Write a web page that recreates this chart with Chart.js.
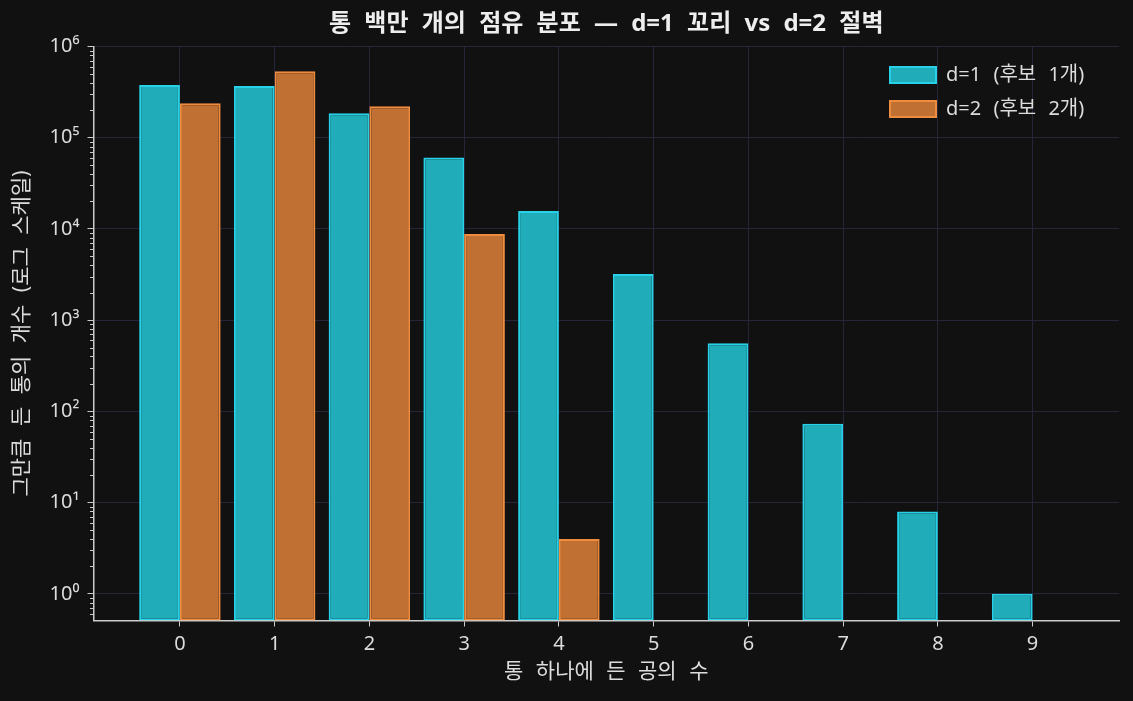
<!DOCTYPE html>
<html lang="ko">
<head>
<meta charset="utf-8">
<title>통 백만 개의 점유 분포</title>
<script src="https://cdn.jsdelivr.net/npm/chart.js@4.4.1/dist/chart.umd.min.js"></script>
<style>
  html, body { margin: 0; padding: 0; background: #111111; }
  #chart { display: block; }
</style>
</head>
<body>
<canvas id="chart" width="1133" height="701"></canvas>
<script>
// 통 하나에 든 공의 수
var ballCounts = [0, 1, 2, 3, 4, 5, 6, 7, 8, 9];
var tickLabelsX = ['0', '1', '2', '3', '4', '5', '6', '7', '8', '9'];
// 그만큼 든 통의 개수 (d=1: 후보 1개)
var binsD1 = [378000, 369000, 185000, 60800, 15700, 3200, 560, 73, 8, 1];
// d=2: 후보 2개, 5개 이상은 0 -> 로그축이라 안 그림
var binsD2 = [238000, 534000, 221000, 8800, 4, null, null, null, null, null];
var seriesLabels = ['d=1 (후보 1개)', 'd=2 (후보 2개)'];
var tickValuesY = [1, 10, 100, 1000, 10000, 100000, 1000000];
var tickLabelsY = ['10⁰', '10¹', '10²', '10³', '10⁴', '10⁵', '10⁶'];

var textColor = '#dcdcdc';
var spineColor = '#cccccc';
var gridColor = '#26263a';

Chart.defaults.font.family = "'Noto Sans', 'Noto Sans CJK KR', sans-serif";
Chart.defaults.color = textColor;

// 작은 눈금 (로그축 2~9)
var minorTicks = {
    id: 'minorTicks',
    afterDraw(chart) {
        var y = chart.scales.y, ctx = chart.ctx, left = chart.chartArea.left;
        ctx.save();
        ctx.strokeStyle = spineColor;
        ctx.lineWidth = 1;
        ctx.beginPath();
        for (var e = -1; e < 6; e++) {
            for (var k = 2; k < 10; k++) {
                var v = k * Math.pow(10, e);
                if (v < y.min || v > y.max) continue;
                var py = Math.round(y.getPixelForValue(v)) + 0.5;
                ctx.moveTo(left - 3.5, py);
                ctx.lineTo(left, py);
            }
        }
        ctx.stroke();
        ctx.restore();
    }
};

// 한글 글꼴 띄어쓰기가 좁아서 조금 넓힘
var textSpacing = {
    id: 'textSpacing',
    beforeUpdate(chart) { chart.ctx.wordSpacing = '7px'; },
    beforeDraw(chart) { chart.ctx.wordSpacing = '7px'; }
};

// 범례를 그래프 안 오른쪽 위로
var legendInside = {
    id: 'legendInside',
    afterLayout(chart) {
        var lg = chart.legend, ca = chart.chartArea;
        var w = lg.width;
        lg.left = ca.right - 243;
        lg.right = lg.left + w;
        lg.top = ca.top + 4.5;
        lg.bottom = ca.bottom;
    }
};

function toPoints(values) {
    return ballCounts.map(function (b, i) { return {x: b, y: values[i]}; });
}

var chart = new Chart(document.getElementById('chart'), {
    type: 'bar',
    data: {
        datasets: [
            {
                label: seriesLabels[0],
                data: toPoints(binsD1),
                backgroundColor: '#20adb9',
                borderColor: '#27d2e8',
                borderWidth: 2,
                borderSkipped: false,
                categoryPercentage: 0.86,
                barPercentage: 1
            },
            {
                label: seriesLabels[1],
                data: toPoints(binsD2),
                backgroundColor: '#c07032',
                borderColor: '#f08c3e',
                borderWidth: 2,
                borderSkipped: false,
                categoryPercentage: 0.86,
                barPercentage: 1
            }
        ]
    },
    options: {
        responsive: false,
        animation: false,
        layout: {padding: {left: 0, right: 14, top: 0, bottom: 0}},
        plugins: {
            title: {
                display: true,
                text: '통 백만 개의 점유 분포 — d=1 꼬리 vs d=2 절벽',
                color: '#eeeeee',
                fullSize: false,
                font: {size: 24, weight: 'bold'},
                padding: {top: 10, bottom: 7.7}
            },
            legend: {
                position: 'chartArea',
                align: 'start',
                labels: {
                    boxWidth: 46,
                    boxHeight: 16,
                    padding: 14,
                    color: textColor,
                    font: {size: 20}
                }
            },
            tooltip: {enabled: false}
        },
        scales: {
            x: {
                type: 'linear',
                min: -0.912,
                max: 9.912,
                offset: false,
                afterBuildTicks: function (s) { s.ticks = ballCounts.map(function (v) { return {value: v}; }); },
                afterFit: function (s) { s.height = 80.5; },
                ticks: {
                    callback: function (v, i) { return tickLabelsX[i]; },
                    color: textColor,
                    font: {size: 20},
                    padding: 6,
                    maxRotation: 0,
                    autoSkip: false
                },
                grid: {offset: false, color: gridColor, tickColor: spineColor, tickLength: 6, lineWidth: 1},
                border: {color: spineColor, width: 1.5},
                title: {
                    display: true,
                    text: '통 하나에 든 공의 수',
                    color: textColor,
                    font: {size: 21},
                    padding: {top: 0, bottom: 16}
                }
            },
            y: {
                type: 'logarithmic',
                min: 0.51,
                max: 1000000,
                afterBuildTicks: function (s) { s.ticks = tickValuesY.map(function (v) { return {value: v, major: true}; }); },
                afterFit: function (s) { s.width = 93.5; },
                ticks: {
                    callback: function (v, i) { return tickLabelsY[i]; },
                    color: textColor,
                    font: {size: 20},
                    padding: 8,
                    autoSkip: false
                },
                grid: {color: gridColor, tickColor: spineColor, tickLength: 6, lineWidth: 1},
                border: {color: spineColor, width: 1.5},
                title: {
                    display: true,
                    text: '그만큼 든 통의 개수 (로그 스케일)',
                    color: textColor,
                    font: {size: 21},
                    padding: {top: 9, bottom: 0}
                }
            }
        }
    },
    plugins: [textSpacing, legendInside, minorTicks]
});
</script>
</body>
</html>
